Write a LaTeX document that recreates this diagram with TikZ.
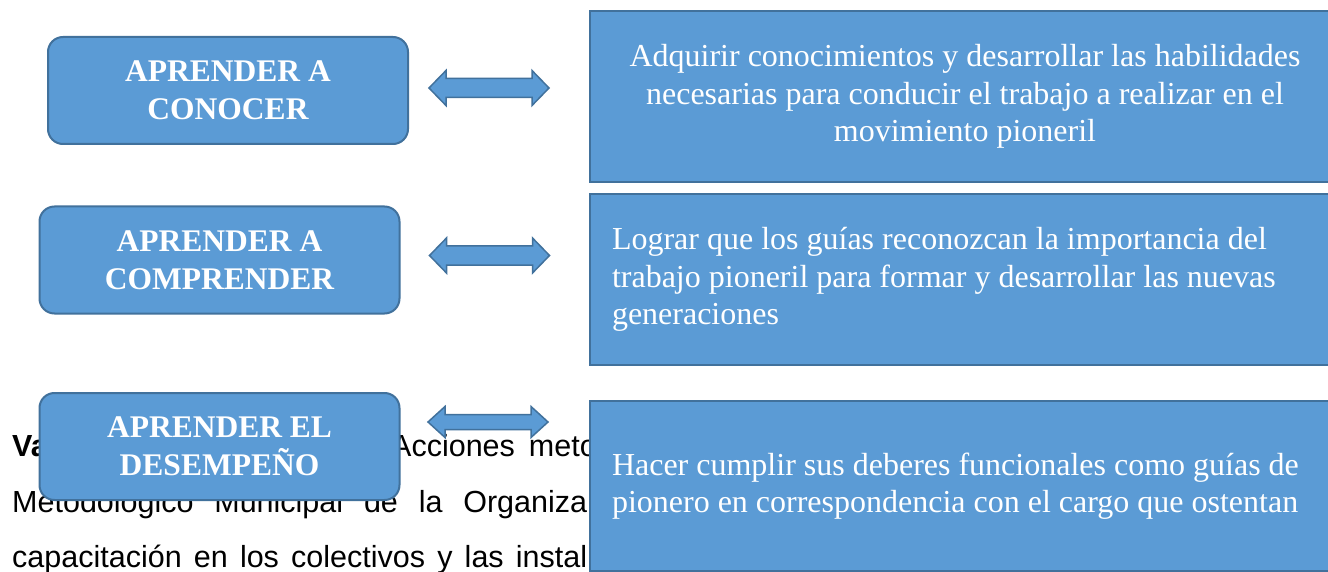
\documentclass[tikz,border=0pt]{standalone}
\usepackage{fontspec}
\setmainfont{Liberation Serif}
\setsansfont{Liberation Sans}
\definecolor{boxfill}{HTML}{5B9BD5}
\definecolor{boxline}{HTML}{41719C}
\tikzset{
  lbox/.style={draw=boxline, fill=boxfill, line width=2pt, rounded corners=15pt,
    minimum width=360pt, minimum height=107pt, align=center, text=white,
    font=\fontsize{31.5}{38}\selectfont\bfseries, inner sep=0pt},
  rbox/.style={draw=boxline, fill=boxfill, line width=2pt, minimum height=171pt,
    text=white, font=\fontsize{32}{37.5}\selectfont, anchor=north west, inner ysep=0pt},
  bgtext/.style={anchor=base west, inner sep=0pt, font=\sffamily\fontsize{30.5}{36}\selectfont},
  blockarrow/.style={draw=boxline, fill=boxfill, line width=1.5pt, line join=miter},
  pics/dblarrow/.style 2 args={code={
    \draw[blockarrow] (-60,0) -- (-43,#1) -- (-43,#2) -- (43,#2) -- (43,#1) -- (60,0)
      -- (43,-#1) -- (43,-#2) -- (-43,-#2) -- (-43,-#1) -- cycle;}}
}
\begin{document}
\begin{tikzpicture}[x=1pt, y=-1pt]
\useasboundingbox (0,0) rectangle (1328,572);
\clip (0,0) rectangle (1328,572);
\fill[white] (0,0) rectangle (1328,572);
% background body text (partly hidden)
\node[bgtext, font=\sffamily\bfseries\fontsize{30.5}{36}\selectfont] (va) at (12,456) {Va};
\node[bgtext] (acc) at (391,456) {Acciones\hspace{14pt}meto};
\node[bgtext] (l2) at (12,512) {\makebox[575pt][s]{Metodológico Municipal de la Organiza}};
\node[bgtext] (l3) at (12,567) {\makebox[575pt][s]{capacitación en los colectivos y las instal}};
% left boxes
\node[lbox] (b1) at (228,90.5) {APRENDER A\\CONOCER};
\node[lbox] (b2) at (219.5,260) {APRENDER A\\COMPRENDER};
\node[lbox] (b3) at (219.5,446.5) {APRENDER EL\\DESEMPEÑO};
% right boxes
\node[rbox, minimum width=750pt, align=center, inner xsep=0pt] (r1) at (589,10)
  {Adquirir conocimientos y desarrollar las habilidades\\necesarias para conducir el trabajo a realizar en el\\movimiento pioneril};
\node[rbox, text width=726pt, align=flush left, inner xsep=22pt] (r2) at (589,193)
  {Lograr que los guías reconozcan la importancia del\\trabajo pioneril para formar y desarrollar las nuevas\\generaciones};
\node[rbox, text width=726pt, align=flush left, inner xsep=22pt, minimum height=170pt] (r3) at (589,400)
  {Hacer cumplir sus deberes funcionales como guías de\\pionero en correspondencia con el cargo que ostentan};
% double arrows
\pic (a1) at (489,88) {dblarrow={17.5}{9.5}};
\pic (a2) at (489.5,255.5) {dblarrow={17.5}{9.5}};
\pic (a3) at (488,422) {dblarrow={15.5}{7.5}};
\end{tikzpicture}
\end{document}
